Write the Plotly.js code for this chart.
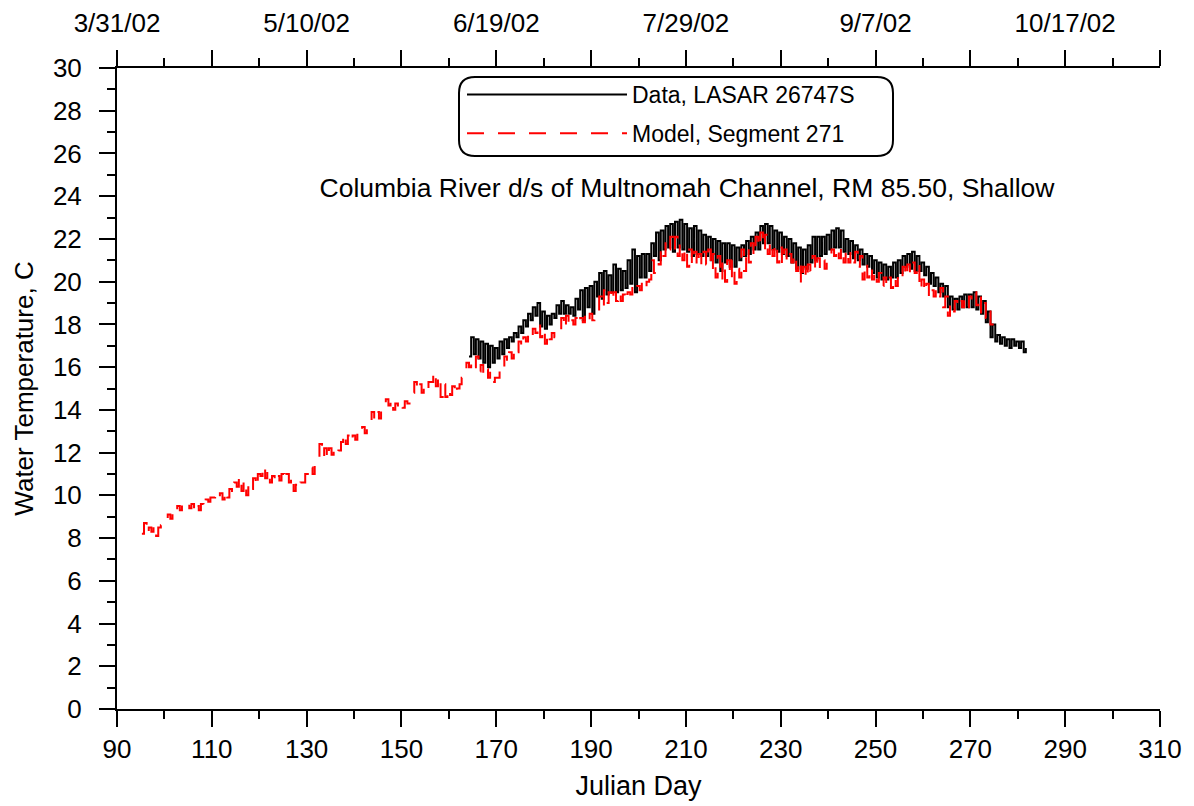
<!DOCTYPE html>
<html>
<head>
<meta charset="utf-8">
<script src="https://cdn.plot.ly/plotly-3.0.1.min.js"></script>
<style>html,body{margin:0;padding:0;background:#fff;}#chart{width:1194px;height:806px;}</style>
</head>
<body>
<div id="chart"></div>
<script>
// Model, Segment 271: daily [min, max] pairs, one pair per Julian day starting at modelStartDay
const modelStartDay = 95;
const modelMinMax = [
[8.2,8.7],[8.2,8.5],[8.3,8.6],[8.1,8.5],[8.6,8.8],[8.8,9.1],[8.9,9.2],[9.1,9.5],[9.3,9.6],[9.5,9.6],
[9.4,9.6],[9.2,9.5],[9.3,9.6],[9.4,9.8],[9.7,9.9],[9.9,10.1],[9.9,10.1],[9.8,10.2],[9.9,10.3],[10.1,10.6],
[10.4,10.9],[10.2,10.7],[10.0,10.6],[10.3,10.8],[10.4,11.0],[10.9,11.4],[10.8,11.2],[10.6,10.9],[10.6,10.9],[10.7,11.0],
[10.7,11.0],[10.6,10.9],[10.2,10.5],[10.3,10.6],[10.6,11.0],[10.9,11.3],[11.0,11.5],[11.7,12.4],[11.8,12.2],[11.7,12.2],
[11.9,12.1],[11.9,12.1],[12.5,12.9],[12.4,12.8],[12.5,12.8],[12.6,12.9],[12.8,13.2],[12.9,13.4],[13.4,13.9],[13.5,13.9],
[13.6,14.0],[14.0,14.5],[14.2,14.5],[14.0,14.3],[14.0,14.2],[14.1,14.4],[14.3,14.8],[14.8,15.3],[14.9,15.2],[14.8,15.2],
[15.0,15.3],[15.3,15.8],[15.1,15.6],[14.6,15.2],[14.6,15.0],[14.7,15.1],[14.7,15.0],[15.2,15.5],[15.8,16.2],[16.0,16.3],
[16.0,16.5],[15.8,16.1],[15.6,15.9],[15.5,15.8],[15.3,15.5],[15.5,16.0],[15.9,16.5],[16.2,16.7],[16.4,16.9],[16.7,17.2],
[16.9,17.4],[17.2,17.6],[17.4,17.8],[17.6,18.1],[17.4,17.8],[17.1,17.6],[17.3,17.6],[17.4,17.7],[17.7,18.3],[17.8,18.4],
[17.9,18.2],[18.0,18.3],[18.0,18.3],[18.1,18.5],[18.2,18.5],[18.2,18.5],[18.5,19.3],[18.8,19.6],[19.0,19.5],[19.1,19.5],
[19.1,19.5],[19.1,19.4],[19.1,19.5],[19.4,19.7],[19.5,19.8],[19.6,20.0],[19.7,20.0],[20.1,21.0],[20.4,20.9],[20.8,21.6],
[21.2,21.9],[21.5,22.1],[21.5,22.1],[21.2,21.8],[21.0,21.6],[20.7,21.5],[20.8,21.4],[20.7,21.3],[20.8,21.4],[20.8,21.5],
[20.5,21.3],[20.2,21.2],[20.1,21.0],[20.0,21.0],[20.1,21.0],[19.9,20.6],[20.2,21.5],[20.5,21.6],[20.9,21.8],[21.2,22.1],
[21.6,22.3],[21.5,22.2],[21.3,21.9],[21.2,21.8],[20.9,21.6],[20.8,21.5],[20.9,21.3],[20.9,21.3],[20.5,21.0],[19.9,20.7],
[20.1,20.8],[20.5,21.2],[20.5,21.1],[20.6,21.0],[20.6,21.0],[21.0,21.5],[21.2,21.6],[21.1,21.6],[20.9,21.5],[20.9,21.4],
[20.9,21.4],[20.7,21.2],[20.1,20.9],[20.2,20.7],[20.1,20.5],[20.0,20.4],[19.8,20.2],[19.8,20.2],[19.7,20.2],[19.8,20.3],
[20.1,20.7],[20.2,20.8],[20.4,20.9],[20.4,20.9],[19.6,20.1],[19.5,19.9],[19.2,19.6],[19.3,19.7],[19.3,19.7],[18.8,19.3],
[18.4,19.0],[18.6,19.1],[18.8,19.1],[18.8,19.2],[18.8,19.3],[19.1,19.5],[18.9,19.4],[18.5,19.0],[18.3,18.7],[18.0,18.4]
];

// Data, LASAR 26747S: daily [min, max] pairs starting at dataStartDay
const dataStartDay = 164;
const dataMinMax = [
[16.5,17.4],[16.6,17.3],[16.4,17.2],[16.2,17.1],[16.0,17.0],[16.2,16.9],[16.4,17.2],[16.6,17.3],[16.9,17.4],[17.2,17.6],
[17.4,17.9],[17.6,18.2],[17.9,18.5],[18.2,18.8],[18.4,19.0],[17.9,18.6],[17.8,18.4],[18.0,18.5],[18.3,18.9],[18.5,19.1],
[18.5,18.9],[18.5,18.8],[18.4,19.2],[18.7,19.6],[18.2,19.7],[18.8,19.8],[18.5,20.0],[19.3,20.4],[19.2,20.5],[19.4,20.3],
[19.5,20.8],[19.5,20.6],[19.6,20.5],[19.7,21.0],[19.9,21.5],[19.5,21.2],[20.2,21.3],[20.2,21.3],[20.5,21.8],[21.2,22.3],
[21.0,22.4],[21.5,22.6],[21.6,22.7],[21.4,22.8],[21.6,22.9],[21.5,22.7],[21.4,22.5],[21.2,22.6],[21.3,22.4],[21.2,22.2],
[21.2,22.1],[21.0,22.0],[20.9,21.9],[20.5,21.8],[20.9,21.8],[20.7,21.7],[20.7,21.6],[21.0,21.7],[21.2,21.9],[21.3,22.1],
[21.5,22.3],[21.5,22.6],[21.8,22.7],[21.8,22.6],[21.5,22.4],[21.4,22.3],[21.3,22.1],[21.2,22.0],[20.9,21.8],[20.6,21.6],
[20.4,21.5],[20.6,21.7],[20.9,22.1],[21.0,22.1],[21.2,22.1],[21.3,22.2],[21.5,22.4],[21.6,22.5],[21.6,22.4],[21.4,22.0],
[21.3,21.9],[21.1,21.7],[21.0,21.5],[20.8,21.3],[20.7,21.2],[20.4,21.0],[20.2,20.9],[20.1,20.8],[20.1,20.7],[20.2,20.9],
[20.2,21.0],[20.4,21.2],[20.7,21.3],[20.6,21.4],[20.5,21.2],[20.5,20.9],[20.3,20.7],[19.9,20.4],[19.8,20.2],[19.5,19.9],
[19.3,19.8],[18.8,19.3],[18.7,19.2],[18.7,19.3],[18.8,19.4],[18.8,19.4],[18.8,19.5],[18.7,19.3],[18.5,19.1],[18.1,18.6],
[17.4,18.0],[17.2,17.5],[17.1,17.4],[17.0,17.3],[16.9,17.3],[17.0,17.2],[16.9,17.2],[16.7,16.9]
];

// Axis ticks and labels
const bottomTicks = [90,110,130,150,170,190,210,230,250,270,290,310];
const topTickVals = [90,110,130,150,170,190,210,230,250,270,290,310];
const topTickText = ['3/31/02','','5/10/02','','6/19/02','','7/29/02','','9/7/02','','10/17/02',''];
const minorTicks = [100,120,140,160,180,200,220,240,260,280,300];
const yTicks = [0,2,4,6,8,10,12,14,16,18,20,22,24,26,28,30];
const yMinor = [1,3,5,7,9,11,13,15,17,19,21,23,25,27,29];

const titleText = 'Columbia River d/s of Multnomah Channel, RM 85.50, Shallow';
const dataName = 'Data, LASAR 26747S';
const modelName = 'Model, Segment 271';

// expand daily min/max pairs into an alternating sub-daily series (min in morning, max in afternoon)
function expand(startDay, pairs) {
  const x = [], y = [];
  pairs.forEach((p, i) => {
    x.push(startDay + i + 0.25); y.push(p[0]);
    x.push(startDay + i + 0.7); y.push(p[1]);
  });
  return {x, y};
}
const m = expand(modelStartDay, modelMinMax);
const d = expand(dataStartDay, dataMinMax);

const FONT = 'Arial, "Liberation Sans", sans-serif';

const traces = [
  {x: d.x, y: d.y, name: dataName, type: 'scatter', mode: 'lines', legendgroup: 'a',
   line: {color: '#000000', width: 2, shape: 'hv'}},
  {x: m.x, y: m.y, name: modelName, type: 'scatter', mode: 'lines', legendgroup: 'b',
   line: {color: '#ff0000', width: 2, dash: '17px,14px', shape: 'hv'}},
  {x: [90, 310], y: [null, null], xaxis: 'x2', yaxis: 'y', showlegend: false, hoverinfo: 'skip', mode: 'lines'}
];

const pl = 117, pr = 1160, pt = 68, pb = 709;
const W = pr - pl, H = pb - pt;
function px(xp) { return (xp - pl) / W; }
function py(yp) { return (pb - yp) / H; }
// rounded legend box
const bx0 = px(459), bx1 = px(893), by0 = py(156), by1 = py(77);
const rx = 16 / W, ry = 16 / H;
const boxPath = `M ${bx0+rx},${by1} L ${bx1-rx},${by1} Q ${bx1},${by1} ${bx1},${by1-ry} L ${bx1},${by0+ry} Q ${bx1},${by0} ${bx1-rx},${by0} L ${bx0+rx},${by0} Q ${bx0},${by0} ${bx0},${by0+ry} L ${bx0},${by1-ry} Q ${bx0},${by1} ${bx0+rx},${by1} Z`;

const axisCommon = {
  showgrid: false, zeroline: false, showline: true, linecolor: '#000', linewidth: 2,
  ticks: 'outside', ticklen: 16, tickwidth: 2, tickcolor: '#000',
  tickfont: {family: FONT, size: 26, color: '#000'}
};

const layout = {
  width: 1194, height: 806,
  margin: {l: pl, r: 1194 - pr, t: pt, b: 806 - pb},
  paper_bgcolor: '#fff', plot_bgcolor: '#fff',
  font: {family: FONT, size: 23, color: '#000'},
  title: {text: titleText, xref: 'paper', yref: 'paper', x: px(687), y: py(188),
          xanchor: 'center', yanchor: 'middle', font: {family: FONT, size: 26.5, color: '#000'}},
  xaxis: Object.assign({}, axisCommon, {
    range: [90, 310], tickmode: 'array', tickvals: bottomTicks,
    minor: {tickvals: minorTicks, ticklen: 8, tickwidth: 2, tickcolor: '#000', ticks: 'outside'},
    title: {text: 'Julian Day', font: {family: FONT, size: 27, color: '#000'}, standoff: 13}
  }),
  xaxis2: Object.assign({}, axisCommon, {
    range: [90, 310], overlaying: 'x', side: 'top', anchor: 'y',
    tickmode: 'array', tickvals: topTickVals, ticktext: topTickText, ticklabelstandoff: 8,
    minor: {tickvals: minorTicks, ticklen: 8, tickwidth: 2, tickcolor: '#000', ticks: 'outside'}
  }),
  yaxis: Object.assign({}, axisCommon, {
    range: [0, 30], tickmode: 'array', tickvals: yTicks, ticklabelstandoff: 12,
    minor: {tickvals: yMinor, ticklen: 8, tickwidth: 2, tickcolor: '#000', ticks: 'outside'},
    title: {text: 'Water Temperature, C', font: {family: FONT, size: 26, color: '#000'}, standoff: 12}
  }),
  showlegend: true,
  legend: {x: px(462), y: py(73), xanchor: 'left', yanchor: 'top', bgcolor: 'rgba(0,0,0,0)',
           borderwidth: 0, itemwidth: 160, font: {family: FONT, size: 23, color: '#000'},
           traceorder: 'grouped', tracegroupgap: 6},
  shapes: [{type: 'path', xref: 'paper', yref: 'paper', path: boxPath,
            line: {color: '#000', width: 2}, fillcolor: 'rgba(0,0,0,0)', layer: 'above'}]
};

Plotly.newPlot('chart', traces, layout, {displayModeBar: false, staticPlot: true});
</script>
</body>
</html>
